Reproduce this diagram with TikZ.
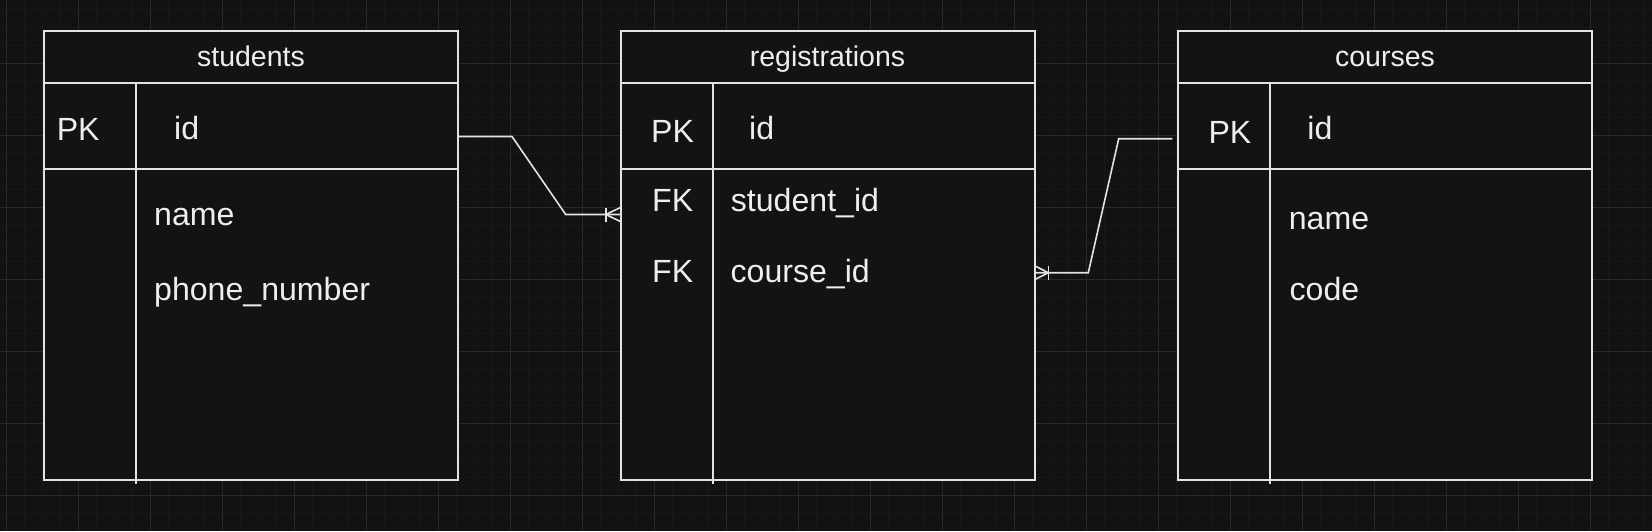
\documentclass[tikz,border=0pt]{standalone}
\usepackage{fontspec}
\setmainfont{Liberation Sans}
\usetikzlibrary{positioning}
\definecolor{canvas}{HTML}{121212}
\definecolor{gridfaint}{HTML}{181818}
\definecolor{gridbold}{HTML}{282828}
\definecolor{tablefill}{HTML}{131313}
\definecolor{inkline}{HTML}{E3E3E3}
\definecolor{inktext}{HTML}{EEEEEE}
\tikzset{x=1pt,y=-1pt,
  entity/.style={draw=inkline, fill=tablefill, line width=2pt, rectangle,
    minimum width=414pt, minimum height=449.5pt, outer sep=0pt, inner sep=0pt},
  tableline/.style={draw=inkline, line width=2pt},
  title/.style={text=inktext, inner sep=0pt, anchor=base, font=\fontsize{28.5}{34}\selectfont},
  field/.style={text=inktext, inner sep=0pt, anchor=base west, font=\fontsize{32.1}{38}\selectfont},
  relation/.style={draw=inkline, line width=1.6pt}}

\begin{document}
\begin{tikzpicture}
        \useasboundingbox (0,0) rectangle (1652,531);
        \fill[canvas] (0,0) rectangle (1652,531);
        % canvas grid
        \foreach \i in {0,...,91} \draw[gridfaint, line width=1pt] (6.7+18*\i,0) -- (6.7+18*\i,531);
        \foreach \i in {0,...,28} \draw[gridfaint, line width=1pt] (0,9.3+18*\i) -- (1652,9.3+18*\i);
        \foreach \i in {0,...,22} \draw[gridbold, line width=1pt] (6.7+72*\i,0) -- (6.7+72*\i,531);
        \foreach \i in {0,...,6} \draw[gridbold, line width=1pt] (0,63.3+72*\i) -- (1652,63.3+72*\i);

        % tables
        \node[entity, anchor=north west] (students) at (44,30.5) {};
        \node[entity, right=162.5pt of students] (registrations) {};
        \node[entity, right=143.5pt of registrations] (courses) {};
        \foreach \t in {students,registrations,courses}{
            \draw[tableline] ([yshift=-52.8pt]\t.north west) -- ([yshift=-52.8pt]\t.north east);
            \draw[tableline] ([yshift=-138.5pt]\t.north west) -- ([yshift=-138.5pt]\t.north east);
            \draw[tableline] ([xshift=92pt,yshift=-52.8pt]\t.north west) -- ([xshift=92pt,yshift=-3.5pt]\t.south west);
        }

        \node[title] (students-title) at ([yshift=-35.5pt]students.north) {students};
        \node[title] (registrations-title) at ([yshift=-36pt]registrations.north) {registrations};
        \node[title] (courses-title) at ([yshift=-35.5pt]courses.north) {courses};

        \node[field] (students-pk) at (56.6,140) {PK};
        \node[field] (students-id) at (174,139.3) {id};
        \node[field] (students-name) at (154,225) {name};
        \node[field] (students-phone) at (154,300) {phone\_number};

        \node[field] (registrations-pk) at (651,142.3) {PK};
        \node[field] (registrations-id) at (749,139.3) {id};
        \node[field] (registrations-fk1) at (652,211.7) {FK};
        \node[field] (registrations-sid) at (730.7,211.7) {student\_id};
        \node[field] (registrations-fk2) at (652,282.7) {FK};
        \node[field] (registrations-cid) at (730.4,282.7) {course\_id};

        \node[field] (courses-pk) at (1208.3,143.3) {PK};
        \node[field] (courses-id) at (1307.2,139.3) {id};
        \node[field] (courses-name) at (1288.6,229.3) {name};
        \node[field] (courses-code) at (1289.4,300.7) {code};

        % relations
        \coordinate (students-key) at (458,136.5);
        \coordinate (reg-student) at (620.5,214.5);
        \coordinate (reg-course) at (1034.5,272.7);
        \coordinate (courses-key) at (1172.3,138.7);

        \draw[relation] (students-key) -- (512,136.5) -- (565.7,214.5) -- (reg-student);
        \draw[relation] ([xshift=-14.8pt]reg-student) ++(0,-7) -- ++(0,14);
        \draw[relation] (reg-student) ++(0,-7) -- ++(-14.8,7) -- ++(14.8,7);

        \draw[relation] (courses-key) -- (1118.7,138.7) -- (1088.3,272.7) -- (reg-course);
        \draw[relation] ([xshift=13.8pt]reg-course) ++(0,-7) -- ++(0,14);
        \draw[relation] (reg-course) ++(0,-7) -- ++(13.8,7) -- ++(-13.8,7);
\end{tikzpicture}
\end{document}
